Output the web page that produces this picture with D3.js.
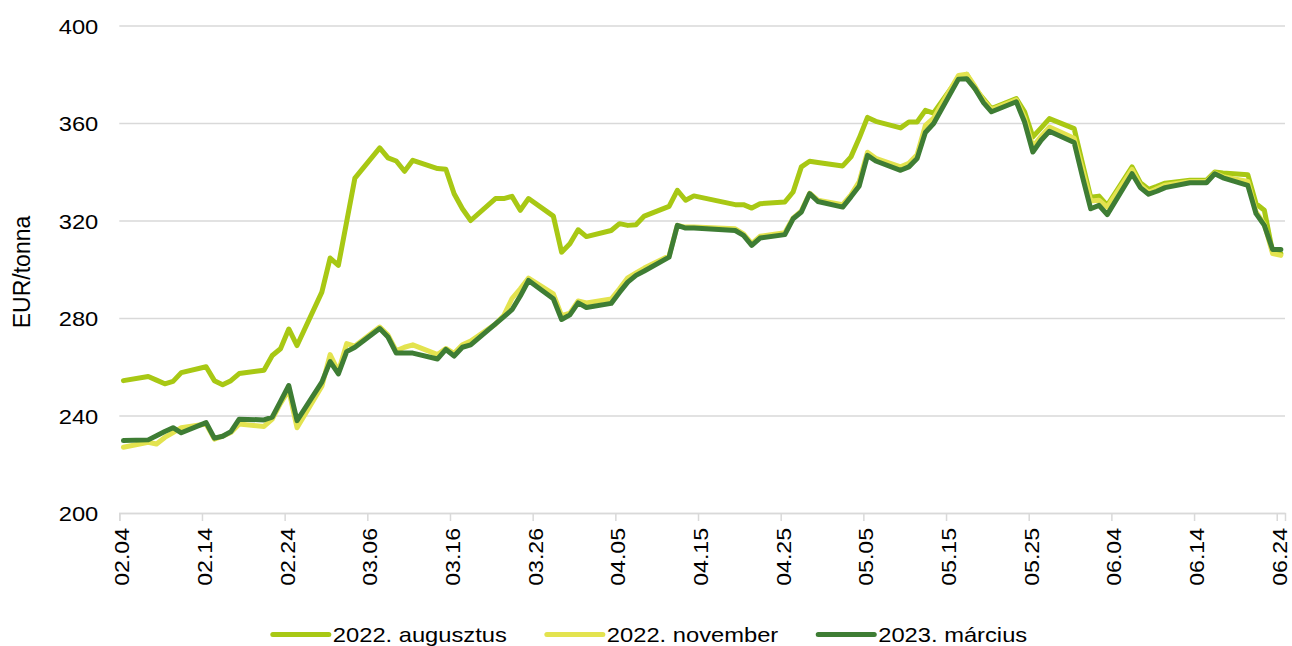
<!DOCTYPE html>
<html>
<head>
<meta charset="utf-8">
<script src="https://cdn.jsdelivr.net/npm/d3@7"></script>
<style>
  body { margin: 0; background: #fff; }
  svg { display: block; font-family: "Liberation Sans", Arial, sans-serif; }
</style>
</head>
<body>
<div id="chart"></div>
<script>
// =====================
// DATA (2022, trading days)
// =====================
const dates = [
  "02.04","02.07","02.08","02.09","02.10","02.11","02.14","02.15","02.16","02.17","02.18","02.21","02.22","02.23","02.24","02.25","02.28",
  "03.01","03.02","03.03","03.04","03.07","03.08","03.09","03.10","03.11","03.14","03.15","03.16","03.17","03.18","03.21","03.22","03.23","03.24","03.25","03.28","03.29","03.30","03.31",
  "04.01","04.04","04.05","04.06","04.07","04.08","04.11","04.12","04.13","04.14","04.19","04.20","04.21","04.22","04.25","04.26","04.27","04.28","04.29",
  "05.02","05.03","05.04","05.05","05.06","05.09","05.10","05.11","05.12","05.13","05.16","05.17","05.18","05.19","05.20","05.23","05.24","05.25","05.26","05.27","05.30","05.31",
  "06.01","06.02","06.03","06.06","06.07","06.08","06.09","06.10","06.13","06.14","06.15","06.16","06.17","06.20","06.21","06.22","06.23","06.24"
];

const augusztus = [
  254.3,256.0,254.5,253.0,254.0,257.6,260.0,254.3,252.6,254.3,257.2,258.6,264.6,267.4,275.5,268.7,290.6,
  304.6,301.6,319.5,337.4,349.8,345.7,344.4,340.2,344.7,341.3,341.0,331.0,324.8,320.0,329.0,329.0,329.9,324.2,329.0,321.8,307.0,310.5,316.2,
  313.4,315.9,318.7,318.0,318.3,321.8,325.8,332.4,328.3,330.1,326.5,326.5,325.1,326.9,327.6,331.7,342.0,344.3,343.8,
  342.4,346.1,353.8,362.3,360.7,358.0,360.4,360.4,365.2,364.1,378.5,380.0,374.1,370.0,365.9,370.0,364.6,354.3,358.0,361.8,357.7,343.5,
  329.5,330.0,326.2,342.0,335.5,332.8,334.0,335.3,336.5,336.5,336.5,339.9,339.5,338.8,326.9,324.2,307.1,306.4
];

const november = [
  227.0,229.0,228.3,231.0,233.0,235.0,236.5,230.3,231.5,233.0,236.5,235.5,238.5,245.0,250.5,235.0,252.0,
  265.0,258.0,269.5,268.5,276.3,273.0,266.5,268.0,269.0,265.0,267.5,265.5,269.0,270.5,277.5,281.0,288.0,292.0,296.4,289.9,281.0,282.0,287.0,
  286.2,287.8,292.0,296.5,298.5,300.5,305.5,318.0,317.3,317.3,316.6,314.5,310.5,313.5,315.0,321.0,324.0,331.2,328.3,
  326.5,330.5,336.0,348.0,345.5,342.0,343.5,347.0,359.0,362.0,379.5,380.0,375.0,369.5,365.5,369.5,362.0,350.2,354.5,358.3,353.7,341.0,
  328.0,328.3,325.5,341.0,334.5,331.5,333.0,334.5,336.0,336.0,336.0,339.5,338.0,336.0,323.5,318.5,306.4,305.7
];

const marcius = [
  229.7,230.0,231.7,233.4,235.0,232.9,237.1,230.7,231.5,233.4,238.5,238.2,239.3,245.8,252.3,237.9,253.7,
  262.1,257.1,266.2,268.0,275.7,272.2,265.6,265.6,265.6,263.2,267.1,264.4,268.0,269.0,277.6,280.5,283.4,289.0,295.4,287.9,279.4,281.3,286.2,
  284.3,286.0,290.5,294.7,297.5,299.3,305.0,318.0,316.9,316.9,315.9,313.9,309.8,312.8,314.2,320.7,323.5,331.0,327.8,
  325.5,329.7,334.2,346.7,344.4,340.6,342.0,345.4,356.1,359.8,378.0,378.2,374.1,368.5,364.6,368.7,360.4,348.1,352.9,356.6,352.0,338.0,
  324.8,326.2,322.4,339.2,333.5,330.8,332.0,333.5,335.5,335.5,335.5,339.2,337.5,334.4,322.8,318.0,308.1,308.1
];

const xTickLabels = ["02.04","02.14","02.24","03.06","03.16","03.26","04.05","04.15","04.25","05.05","05.15","05.25","06.04","06.14","06.24"];
const yTicks = [200, 240, 280, 320, 360, 400];

const seriesNames = ["2022. augusztus", "2022. november", "2023. március"];
const seriesColors = ["#a8c814", "#e3e34f", "#3e7d34"];
const yTitle = "EUR/tonna";

// =====================
// SETUP
// =====================
const W = 1292, H = 646;
const plot = {left: 119.3, right: 1285, top: 25.5, bottom: 513};
const stretch = 1.13;   // text in the source is drawn a bit wide

const parse = s => d3.utcParse("%Y.%m.%d")("2022." + s);

const series = [augusztus, november, marcius].map((vals, i) => ({
  name: seriesNames[i],
  color: seriesColors[i],
  values: vals.map((v, j) => ({ date: parse(dates[j]), value: v }))
}));

const svg = d3.select("#chart")
  .append("svg")
  .attr("width", W)
  .attr("height", H);

// =====================
// SCALES
// =====================
const firstDay = parse(xTickLabels[0]);
const lastDay = d3.utcDay.offset(parse(xTickLabels[xTickLabels.length - 1]), 1);

const x = d3.scaleUtc()
  .domain([firstDay, lastDay])
  .range([plot.left, plot.right]);

const y = d3.scaleLinear()
  .domain([200, 400])
  .range([plot.bottom, plot.top]);

// =====================
// Y AXIS + GRID
// =====================
const yAxis = svg.append("g")
  .attr("transform", `translate(${plot.left},0)`)
  .call(d3.axisLeft(y).tickValues(yTicks).tickSize(-(plot.right - plot.left)).tickFormat(d3.format("d")));

yAxis.select(".domain").remove();
yAxis.selectAll(".tick line")
  .attr("stroke", "#d9d9d9")
  .attr("stroke-width", 1.5);
yAxis.selectAll(".tick text")
  .attr("x", 0)
  .attr("dy", 0)
  .attr("y", 0)
  .attr("transform", `translate(-21,7.5) scale(${stretch},1)`)
  .style("font-size", "21px")
  .style("fill", "#000")
  .style("font-family", "Liberation Sans, Arial, sans-serif");

svg.append("text")
  .attr("transform", `translate(30,272) rotate(-90)`)
  .attr("text-anchor", "middle")
  .style("font-size", "23px")
  .style("fill", "#000")
  .text(yTitle);

// =====================
// X AXIS
// =====================
const xAxis = svg.append("g")
  .attr("transform", `translate(0,${plot.bottom})`)
  .call(d3.axisBottom(x)
    .tickValues(xTickLabels.map(parse))
    .tickFormat(d3.utcFormat("%m.%d"))
    .tickSizeOuter(0)
    .tickSize(8));

xAxis.select(".domain")
  .attr("stroke", "#d9d9d9")
  .attr("stroke-width", 1.5);
xAxis.selectAll(".tick line")
  .attr("stroke", "#d9d9d9")
  .attr("stroke-width", 1.5);
xAxis.selectAll(".tick text")
  .attr("transform", "translate(9.5,15) rotate(-90) scale(1.1,1)")
  .attr("x", 0)
  .attr("y", 0)
  .attr("dy", 0)
  .style("text-anchor", "end")
  .style("font-size", "21px")
  .style("fill", "#000")
  .style("font-family", "Liberation Sans, Arial, sans-serif");

// =====================
// LINES
// =====================
const line = d3.line()
  .x(d => x(d3.utcHour.offset(d.date, 12)))
  .y(d => y(d.value));

svg.append("g")
  .selectAll("path")
  .data(series)
  .enter()
  .append("path")
  .attr("d", d => line(d.values))
  .attr("fill", "none")
  .attr("stroke", d => d.color)
  .attr("stroke-width", 5)
  .attr("stroke-linejoin", "round")
  .attr("stroke-linecap", "round");

// =====================
// LEGEND
// =====================
const legend = svg.append("g");
const swatch = 56, gapText = 4, gapItem = 40, legendY = 634.5;

const items = legend.selectAll("g")
  .data(series)
  .enter()
  .append("g");

items.append("line")
  .attr("x1", 0)
  .attr("x2", swatch)
  .attr("y1", legendY)
  .attr("y2", legendY)
  .attr("stroke", d => d.color)
  .attr("stroke-width", 5)
  .attr("stroke-linecap", "round");

items.append("text")
  .attr("transform", `translate(${swatch + gapText},${legendY + 7.5}) scale(${stretch},1)`)
  .style("font-size", "21px")
  .style("fill", "#000")
  .text(d => d.name);

// lay the items out side by side, centred on the page
const widths = [];
items.each(function() {
  const w = d3.select(this).select("text").node().getComputedTextLength() * stretch;
  widths.push(swatch + gapText + w);
});
const total = d3.sum(widths) + gapItem * (widths.length - 1);
let offset = 650 - total / 2;
items.attr("transform", (d, i) => {
  const t = `translate(${offset},0)`;
  offset += widths[i] + gapItem;
  return t;
});
</script>
</body>
</html>
